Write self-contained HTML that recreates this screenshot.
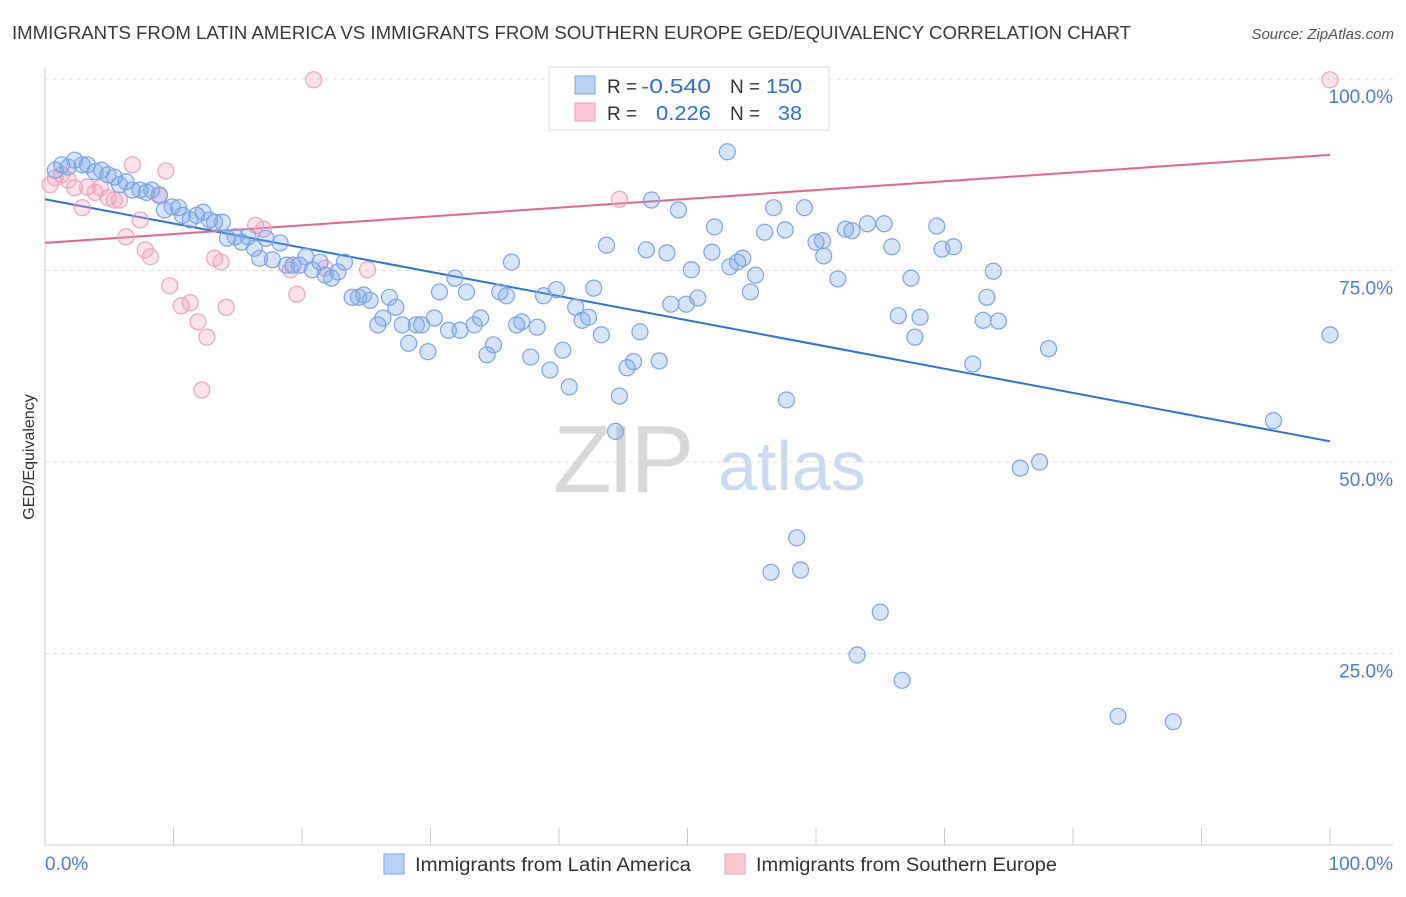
<!DOCTYPE html>
<html><head><meta charset="utf-8"><style>
body{margin:0;background:#fff;font-family:"Liberation Sans",sans-serif;}
svg text{font-family:"Liberation Sans",sans-serif;}
</style></head><body>
<svg id="chart" width="1406" height="892" viewBox="0 0 1406 892" xmlns="http://www.w3.org/2000/svg">
<text x="12" y="39" font-size="18" fill="#3a3a3a" textLength="1119" lengthAdjust="spacingAndGlyphs">IMMIGRANTS FROM LATIN AMERICA VS IMMIGRANTS FROM SOUTHERN EUROPE GED/EQUIVALENCY CORRELATION CHART</text>
<text x="1394" y="39" font-size="15" fill="#555" font-style="italic" text-anchor="end">Source: ZipAtlas.com</text>
<g>
<text x="553" y="492" font-size="96" font-family="Liberation Serif" fill="#d8d8d8" letter-spacing="-4">ZIP</text>
<text x="718" y="490" font-size="70" fill="#c9dbf2">atlas</text>
</g>
<g id="grid"></g>
<g id="axes"></g>
<text transform="translate(34,457) rotate(-90)" font-size="16" fill="#333" text-anchor="middle">GED/Equivalency</text>
<g id="lines"></g>
<g id="pinkDots"></g>
<g id="blueDots"></g>
<g>
<rect x="549" y="67" width="280" height="63" fill="#fff" stroke="#ddd"/>
<rect x="575" y="76" width="20" height="18" fill="#b8d3f5" stroke="#7aa7e6"/>
<rect x="575" y="103" width="20" height="18" fill="#fbc7d6" stroke="#f0a0bb"/>
<text x="607" y="93" font-size="19" fill="#333">R =</text>
<text x="641" y="93" font-size="20" fill="#2f6fd6" textLength="70" lengthAdjust="spacingAndGlyphs">-0.540</text>
<text x="730" y="93" font-size="19" fill="#333">N =</text>
<text x="766" y="93" font-size="20" fill="#2f6fd6" textLength="36" lengthAdjust="spacingAndGlyphs">150</text>
<text x="607" y="120" font-size="19" fill="#333">R =</text>
<text x="656" y="120" font-size="20" fill="#2f6fd6" textLength="55" lengthAdjust="spacingAndGlyphs">0.226</text>
<text x="730" y="120" font-size="19" fill="#333">N =</text>
<text x="778" y="120" font-size="20" fill="#2f6fd6" textLength="24" lengthAdjust="spacingAndGlyphs">38</text>
</g>
<g>
<g>
<rect x="384" y="854" width="20" height="20" fill="#b8d3f5" stroke="#7aa7e6"/>
<text x="415" y="871" font-size="19" fill="#333" textLength="276" lengthAdjust="spacingAndGlyphs">Immigrants from Latin America</text></g>
<g>
<rect x="725" y="854" width="20" height="20" fill="#fbc7d6" stroke="#f0a0bb"/>
<text x="756" y="871" font-size="19" fill="#333" textLength="301" lengthAdjust="spacingAndGlyphs">Immigrants from Southern Europe</text></g>
</g>
</svg>
<script>
const yTicks=[100,75,50,25];
const yTickLabels=["100.0%","75.0%","50.0%","25.0%"];
const xTicks=[0,10,20,30,40,50,60,70,80,90,100];
const xEndLabels=["0.0%","100.0%"];
const blueX=[0.8,1.3,1.8,2.3,2.9,3.3,3.9,4.4,4.9,5.4,5.8,6.3,6.8,7.4,7.9,8.3,8.9,9.3,9.9,10.4,10.7,11.3,11.8,12.3,12.8,13.2,13.8,14.2,14.8,15.3,15.8,16.3,16.7,17.2,17.7,18.3,18.8,19.3,19.8,20.3,20.8,21.4,21.8,22.3,22.8,23.3,23.9,24.4,24.8,25.3,25.9,26.3,26.8,27.3,27.8,28.3,28.9,29.3,29.8,30.3,30.7,31.4,31.9,32.3,32.8,33.4,33.9,34.4,34.9,35.4,35.9,36.3,36.7,37.1,37.8,38.3,38.8,39.3,39.8,40.3,40.8,41.3,41.8,42.3,42.7,43.3,43.7,44.7,44.4,45.3,45.8,46.3,46.8,47.2,47.8,48.4,48.7,49.3,49.9,50.3,50.8,51.9,52.1,53.1,53.3,53.9,54.3,54.9,55.3,56.0,56.7,57.6,57.7,58.5,58.8,56.5,59.1,60.0,60.5,60.6,61.7,62.3,62.8,63.2,64.0,65.0,65.3,65.9,66.4,66.7,67.4,67.7,68.1,69.4,69.8,70.7,72.2,73.0,73.3,73.8,74.2,75.9,77.4,78.1,83.5,87.8,95.6,100];
const blueY=[88.1,88.8,88.5,89.4,88.8,88.8,87.9,88.1,87.5,87.2,86.2,86.6,85.5,85.5,85.2,85.5,84.9,82.9,83.3,83.2,82.2,81.6,82.2,82.6,81.6,81.3,81.3,79.2,79.4,78.7,79.4,77.9,76.6,79.2,76.4,78.6,75.7,75.7,75.7,76.8,75.1,76.1,74.4,74.0,74.8,76.1,71.5,71.5,71.8,71.1,67.9,68.8,71.5,70.2,67.9,65.5,67.9,67.9,64.4,68.8,72.2,67.2,74.0,67.2,72.2,67.9,68.8,64.0,65.3,72.2,71.7,76.1,67.9,68.3,63.7,67.6,71.7,62.0,72.5,64.6,59.8,70.2,68.5,68.9,72.7,66.6,78.3,58.6,54.0,62.3,63.1,67.0,77.7,84.2,63.2,77.3,70.6,82.9,70.6,75.1,71.4,77.4,80.7,90.5,75.5,76.1,76.6,72.2,74.4,80.0,83.2,80.3,58.1,40.1,35.9,35.6,83.2,78.7,78.9,76.9,73.9,80.4,80.2,24.8,81.1,30.4,81.1,78.1,69.1,21.5,74.0,66.3,68.9,80.8,77.8,78.1,62.8,68.5,71.5,74.9,68.4,49.2,50.0,64.8,16.8,16.1,55.4,66.6];
const pinkX=[0.4,0.8,1.3,1.8,2.3,2.9,3.3,3.9,4.3,4.9,5.4,5.8,6.3,6.8,7.4,7.8,8.2,8.9,9.4,9.7,10.6,11.3,11.9,12.6,12.2,13.2,13.7,14.1,16.4,17.0,19.1,19.6,20.9,21.8,25.1,44.7,100];
const pinkY=[86.2,87.1,87.5,86.8,85.8,83.2,85.9,85.2,85.8,84.5,84.2,84.2,79.4,88.8,81.6,77.7,76.8,84.7,88.0,73.0,70.4,70.8,68.3,66.3,59.4,76.6,76.1,70.2,80.9,80.4,75.1,71.9,99.9,75.3,75.1,84.3,99.9];
const blueTrend=[84.3,52.7];
const pinkTrend=[78.6,90.1];

const NS="http://www.w3.org/2000/svg";
const X0=45,X1=1330,Y100=79,Y0=845;
function sx(v){return X0+(X1-X0)*v/100;}
function sy(v){return Y0-(Y0-Y100)*v/100;}
function mk(tag,attrs,parent){const e=document.createElementNS(NS,tag);for(const k in attrs)e.setAttribute(k,attrs[k]);parent.appendChild(e);return e;}
const grid=document.getElementById('grid'),axes=document.getElementById('axes');
yTicks.forEach((t,i)=>{
  const l=mk('line',{x1:X0,x2:1393,y1:sy(t),y2:sy(t),stroke:'#ddd','stroke-dasharray':'4,4'},grid);
  
  
  const tx=mk('text',{x:1393,y:sy(t)+24,'font-size':19,fill:'#4a7fd6','text-anchor':'end'},axes);
  tx.textContent=yTickLabels[i];
  
  
});
const ya=mk('line',{x1:X0,x2:X0,y1:68,y2:Y0,stroke:'#ccc'},axes);


const xa=mk('line',{x1:X0,x2:1393,y1:Y0,y2:Y0,stroke:'#ccc'},axes);


xTicks.forEach(t=>{
  const l=mk('line',{x1:sx(t),x2:sx(t),y1:828,y2:Y0,stroke:'#ccc'},axes);
  
  
});
const xl0=mk('text',{x:45,y:870,'font-size':19,fill:'#4a7fd6'},axes);
xl0.textContent=xEndLabels[0];


const xl1=mk('text',{x:1393,y:870,'font-size':19,fill:'#4a7fd6','text-anchor':'end'},axes);
xl1.textContent=xEndLabels[1];



const lines=document.getElementById('lines');
const bl=mk('line',{x1:sx(0),y1:sy(blueTrend[0]),x2:sx(100),y2:sy(blueTrend[1]),stroke:'#2f74d8','stroke-width':2},lines);


const pl=mk('line',{x1:sx(0),y1:sy(pinkTrend[0]),x2:sx(100),y2:sy(pinkTrend[1]),stroke:'#e4668f','stroke-width':2},lines);



const pg=document.getElementById('pinkDots');
pinkX.forEach((x,i)=>{
  const c=mk('circle',{cx:sx(x),cy:sy(pinkY[i]),r:8,fill:'rgba(244,160,186,0.3)',stroke:'#f2a3bd','stroke-width':1.2},pg);
  
  
});
const bg=document.getElementById('blueDots');
blueX.forEach((x,i)=>{
  const c=mk('circle',{cx:sx(x),cy:sy(blueY[i]),r:8,fill:'rgba(120,165,235,0.3)',stroke:'#7ba6e6','stroke-width':1.2},bg);
  
  
});
</script>
</body></html>
